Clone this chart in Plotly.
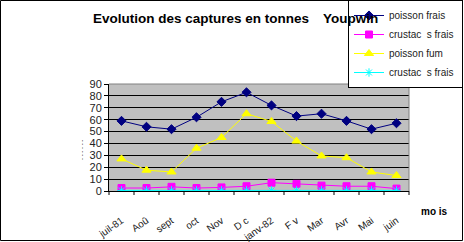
import plotly.graph_objects as go

months = ["juil-81", "Aoû", "sept", "oct", "Nov", "D c", "janv-82", "F v", "Mar", "Avr", "Mai", "juin"]
poisson_frais = [59, 54, 52, 62, 75, 83, 72, 63, 65, 59, 52, 57]
crustaces_frais = [2.5, 2.5, 3.5, 2.5, 3, 4, 7, 6, 4.5, 4, 4, 2]
poisson_fume = [27, 17.5, 16, 36, 45, 65, 58.5, 42, 29.5, 28, 16, 13]
crustaces_frais2 = [0.5, 0.5, 0.5, 0.5, 0.5, 0.5, 0.5, 0.5, 0.5, 0.5, 0.5, 0.5]
y_ticks = [0, 10, 20, 30, 40, 50, 60, 70, 80, 90]

series = [
    ("poisson frais", poisson_frais, "#000080", "diamond", 7),
    ("crustac  s frais", crustaces_frais, "#FF00FF", "square", 7),
    ("poisson fum", poisson_fume, "#FFFF00", "triangle-up", 8),
    ("crustac  s frais ", crustaces_frais2, "#00FFFF", "asterisk-open", 7),
]

fig = go.Figure()
for name, vals, col, sym, sz in series:
    fig.add_trace(go.Scatter(
        x=months, y=vals, name=name, mode="lines+markers",
        line=dict(color=col, width=1),
        marker=dict(symbol=sym, size=sz, color=col, line=dict(color=col, width=1)),
    ))

W, H = 464, 242
L, R, T, B = 109, 55, 84, 51
pw, ph = W - L - R, H - T - B

def px(x):
    return (x - L) / pw

def py(y):
    return 1 - (y - T) / ph

# category-boundary tick marks below the x axis (axis range spans len(months) categories)
n = len(months)
boundary_ticks = [
    dict(type="line", xref="paper", yref="paper", x0=i / n, x1=i / n,
         y0=0, y1=-4 / ph, line=dict(color="black", width=1))
    for i in range(n + 1)
]

fig.update_layout(
    width=W, height=H,
    margin=dict(l=L, r=R, t=T, b=B, autoexpand=False),
    paper_bgcolor="white",
    plot_bgcolor="#C0C0C0",
    font=dict(family="Liberation Sans, Arial, sans-serif", color="black", size=10),
    showlegend=True,
    legend=dict(
        x=px(463), y=py(0), xanchor="right", yanchor="top",
        bgcolor="white", bordercolor="black", borderwidth=1,
        font=dict(size=10, color="#222222"),
        tracegroupgap=0, itemwidth=30,
    ),
    xaxis=dict(
        type="category", showgrid=False, showline=True, linecolor="black", linewidth=1,
        ticks="outside", ticklen=19, tickcolor="rgba(255,255,255,0)",
        tickangle=-35, tickfont=dict(size=10, color="#222222"),
        range=[-0.5, 11.5],
    ),
    yaxis=dict(
        range=[0, 90], tickvals=y_ticks, showgrid=True, gridcolor="black", gridwidth=1,
        showline=True, linecolor="black", linewidth=1,
        ticks="outside", ticklen=4, tickcolor="black",
        tickfont=dict(size=11, color="#222222"), zeroline=False,
    ),
    annotations=[
        dict(text="<b>Evolution des captures en tonnes</b>", x=px(91), y=py(18),
             xref="paper", yref="paper", xanchor="left", yanchor="middle",
             showarrow=False, font=dict(size=13.5, color="black")),
        dict(text="<b>Youpwin</b>", x=px(321), y=py(18),
             xref="paper", yref="paper", xanchor="left", yanchor="middle",
             showarrow=False, font=dict(size=13.5, color="black")),
        dict(text="<b>mo is</b>", x=px(419), y=py(211),
             xref="paper", yref="paper", xanchor="left", yanchor="middle",
             showarrow=False, font=dict(size=10, color="black")),
        dict(text="- - - - - -", x=px(82), y=py(150),
             xref="paper", yref="paper", xanchor="center", yanchor="middle",
             textangle=-90, showarrow=False, font=dict(size=6, color="black")),
    ],
    shapes=[
        dict(type="rect", xref="paper", yref="paper", x0=px(0.5), x1=px(462.5),
             y0=py(240.5), y1=py(0.5), line=dict(color="black", width=1), layer="below"),
        dict(type="line", xref="paper", yref="paper", x0=0, x1=1, y0=1, y1=1,
             line=dict(color="#808080", width=1)),
        dict(type="line", xref="paper", yref="paper", x0=1, x1=1, y0=0, y1=1,
             line=dict(color="#808080", width=1)),
    ] + boundary_ticks,
)

fig.write_html("out.html")
